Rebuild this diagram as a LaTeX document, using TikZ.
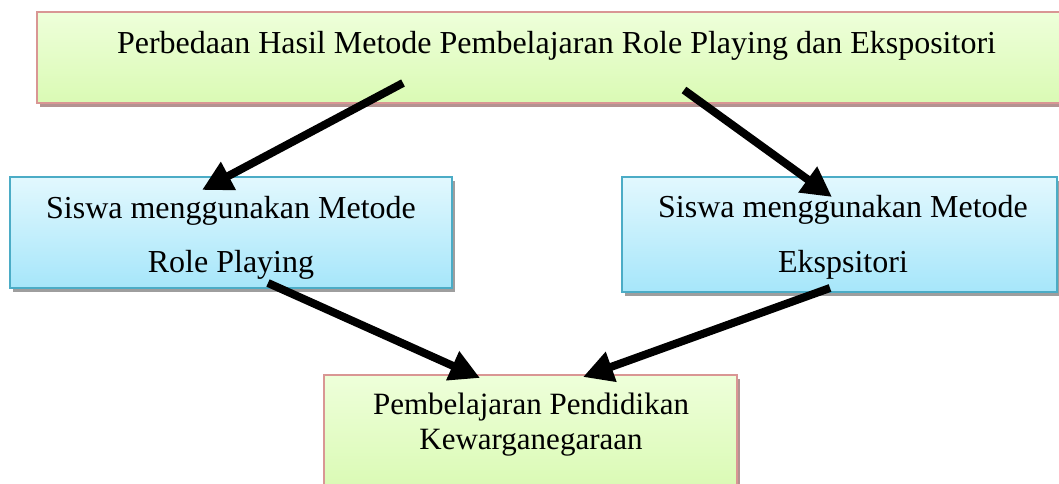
\documentclass[tikz,border=0pt]{standalone}
\usepackage{fontspec}
\setmainfont{Liberation Serif}
\usepackage{tikz}
\usetikzlibrary{arrows.meta, shadows}
\definecolor{hijauatas}{HTML}{EEFFDA}
\definecolor{hijaubawah}{HTML}{DAFAB4}
\definecolor{garismerah}{HTML}{D99694}
\definecolor{bayangmerah}{HTML}{B39392}
\definecolor{biruatas}{HTML}{E2F8FE}
\definecolor{birubawah}{HTML}{A6E6FA}
\definecolor{garisbiru}{HTML}{4BACC6}
\tikzstyle{kotakhijau}=[draw=garismerah, line width=2.5pt, top color=hijauatas, bottom color=hijaubawah, drop shadow={shadow xshift=3pt, shadow yshift=-4pt, fill=bayangmerah, opacity=1}]
\tikzstyle{kotakbiru}=[draw=garisbiru, line width=2pt, top color=biruatas, bottom color=birubawah, drop shadow={shadow xshift=3pt, shadow yshift=-4pt, fill=black!38, opacity=1}]
\tikzstyle{teks}=[align=center, inner sep=0pt]
\tikzstyle{panah}=[line width=8pt, -{Triangle[length=30pt, width=30pt]}]

\begin{document}
\begin{tikzpicture}[x=1pt, y=-1pt]
        \useasboundingbox (0,0) rectangle (1059,484);
        % kotak
        \node[kotakhijau, minimum width=1028pt, minimum height=91pt] (judul) at (551,57.5) {};
        \node[kotakbiru, minimum width=442pt, minimum height=111pt] (rp) at (231,232.5) {};
        \node[kotakbiru, minimum width=435pt, minimum height=115pt] (eks) at (839.5,234.5) {};
        \node[kotakhijau, minimum width=413pt, minimum height=115pt] (pkn) at (530.5,432.5) {};
        % teks
        \node[teks, anchor=base, font=\fontsize{32}{54}\selectfont] (judulteks) at (556.5,54) {Perbedaan Hasil Metode Pembelajaran Role Playing dan Ekspositori};
        \node[teks, font=\fontsize{32}{54}\selectfont] (rpteks) at (231,237.5) {Siswa menggunakan Metode\\Role Playing};
        \node[teks, font=\fontsize{32}{55}\selectfont] (eksteks) at (843,237) {Siswa menggunakan Metode\\Ekspsitori};
        \node[teks, font=\fontsize{31}{35}\selectfont] (pknteks) at (531,425) {Pembelajaran Pendidikan\\Kewarganegaraan};
        % panah
        \coordinate (a1) at (403,83);
        \coordinate (b1) at (202,190);
        \coordinate (a2) at (684,90);
        \coordinate (b2) at (832,197);
        \coordinate (a3) at (268,283);
        \coordinate (b3) at (480,378);
        \coordinate (a4) at (830,288);
        \coordinate (b4) at (583,377);
        \draw[panah] (a1) -- (b1);
        \draw[panah] (a2) -- (b2);
        \draw[panah] (a3) -- (b3);
        \draw[panah] (a4) -- (b4);
    \end{tikzpicture}
\end{document}
